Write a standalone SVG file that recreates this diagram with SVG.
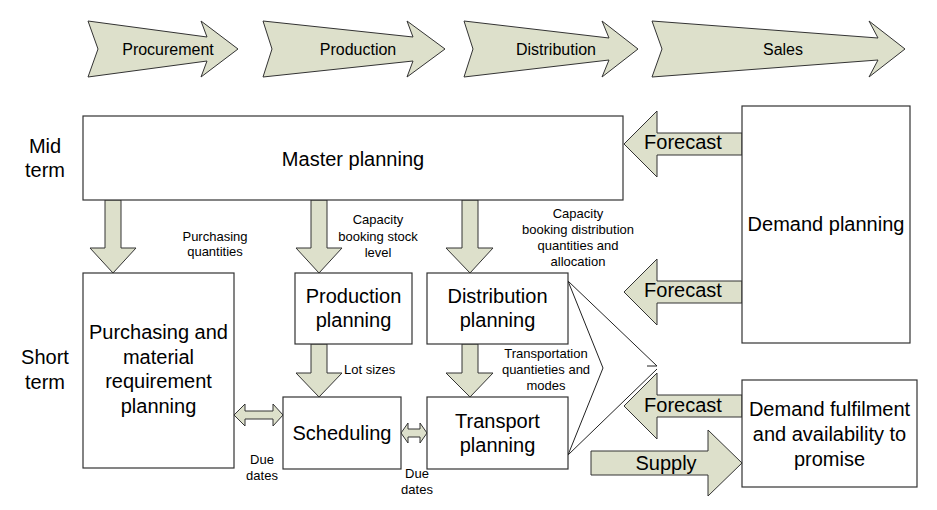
<svg xmlns="http://www.w3.org/2000/svg" width="937" height="510" viewBox="0 0 937 510">
<style>
text{font-family:"Liberation Sans",Arial,sans-serif;fill:#000;text-anchor:middle}
.box{fill:#fff;stroke:#333;stroke-width:1.2}
.arr{fill:#dde0cb;stroke:#333;stroke-width:1}
.ln{fill:none;stroke:#222;stroke-width:1}
.big{font-size:20px}
.mid{font-size:16px}
.sm{font-size:13px}
</style>
<rect width="937" height="510" fill="#fff"/>
<g id="stages">
<g id="procurement"><polygon class="arr" points="88,21 207,37 201,21 238,49 201,77 207,61 88,77 98,49"/><text class="mid" x="168" y="55">Procurement</text></g>
<g id="production"><polygon class="arr" points="263,21 413,37 407,21 445,49 407,77 413,61 263,77 272,49"/><text class="mid" x="358" y="55">Production</text></g>
<g id="distribution"><polygon class="arr" points="464,21 609,38 602,21 638,49 602,77 609,60 464,77 473,49"/><text class="mid" x="556" y="55">Distribution</text></g>
<g id="sales"><polygon class="arr" points="652,21 878,38 869,21 905,49 869,77 878,60 652,77 662,49"/><text class="mid" x="783" y="55">Sales</text></g>
</g>
<g id="labels-terms">
<text class="big" x="45" y="153">Mid</text><text class="big" x="45" y="177">term</text>
<text class="big" x="45" y="364">Short</text><text class="big" x="45" y="389">term</text>
</g>
<g id="connectors">
<polygon class="arr" points="105,200 121,200 121,248 136,248 113,273 90,248 105,248"/>
<polygon class="arr" points="311,200 327,200 327,248 342,248 319,273 296,248 311,248"/>
<polygon class="arr" points="462,200 478,200 478,248 493,248 470,273 446,248 462,248"/>
<polygon class="arr" points="311,344 327,344 327,373 342,373 319,397 296,373 311,373"/>
<polygon class="arr" points="462,344 478,344 478,373 493,373 470,397 446,373 462,373"/>
<polygon class="arr" points="742,133 657,133 657,111 624,144 657,177 657,155 742,155"/>
<polygon class="arr" points="742,281 657,281 657,259 624,292 657,325 657,303 742,303"/>
<polygon class="arr" points="742,395 657,395 657,373 624,406 657,439 657,417 742,417"/>
<polygon class="arr" points="591,451 708,451 708,430 742,463 708,496 708,475 591,475"/>
<polygon class="arr" points="234,415 245,404 245,411 273,411 273,404 283,415 273,426 273,419 245,419 245,426"/>
<polygon class="arr" points="401,433 408,423 408,429 420,429 420,423 427,433 420,443 420,437 408,437 408,443"/>
<polyline class="ln" points="568,281 603,368 568,455"/>
<line class="ln" x1="568" y1="281" x2="657" y2="366"/>
<line class="ln" x1="568" y1="455" x2="657" y2="369"/>
<line class="ln" x1="647" y1="366" x2="657" y2="366"/>
<text class="big" x="683" y="149">Forecast</text>
<text class="big" x="683" y="297">Forecast</text>
<text class="big" x="683" y="412">Forecast</text>
<text class="big" x="666" y="470">Supply</text>
<text class="sm" x="215" y="241">Purchasing</text><text class="sm" x="215" y="256">quantities</text>
<text class="sm" x="378" y="224">Capacity</text><text class="sm" x="378" y="241">booking stock</text><text class="sm" x="378" y="257">level</text>
<text class="sm" x="578" y="218">Capacity</text><text class="sm" x="578" y="234">booking distribution</text><text class="sm" x="578" y="250">quantities and</text><text class="sm" x="578" y="266">allocation</text>
<text class="sm" x="344" y="374" style="text-anchor:start">Lot sizes</text>
<text class="sm" x="546" y="358">Transportation</text><text class="sm" x="546" y="374">quantieties and</text><text class="sm" x="546" y="390">modes</text>
<text class="sm" x="262" y="464">Due</text><text class="sm" x="262" y="480">dates</text>
<text class="sm" x="417" y="478">Due</text><text class="sm" x="417" y="494">dates</text>
</g>
<g id="master-planning"><rect class="box" x="83" y="116" width="540" height="84"/><text class="big" x="353" y="166">Master planning</text></g>
<g id="demand-planning"><rect class="box" x="742" y="106" width="168" height="237"/><text class="big" x="826" y="231">Demand planning</text></g>
<g id="purchasing"><rect class="box" x="83" y="273" width="151" height="195"/><text class="big" x="158.5" y="339">Purchasing and</text><text class="big" x="158.5" y="364">material</text><text class="big" x="158.5" y="388">requirement</text><text class="big" x="158.5" y="413">planning</text></g>
<g id="production-planning"><rect class="box" x="295" y="273" width="117" height="71"/><text class="big" x="353.5" y="303">Production</text><text class="big" x="353.5" y="327">planning</text></g>
<g id="distribution-planning"><rect class="box" x="427" y="273" width="141" height="71"/><text class="big" x="497.5" y="303">Distribution</text><text class="big" x="497.5" y="327">planning</text></g>
<g id="scheduling"><rect class="box" x="283" y="397" width="118" height="72"/><text class="big" x="342" y="440">Scheduling</text></g>
<g id="transport-planning"><rect class="box" x="427" y="397" width="141" height="72"/><text class="big" x="497.5" y="428">Transport</text><text class="big" x="497.5" y="452">planning</text></g>
<g id="demand-fulfilment"><rect class="box" x="742" y="380" width="175" height="107"/><text class="big" x="829.5" y="416">Demand fulfilment</text><text class="big" x="829.5" y="441">and availability to</text><text class="big" x="829.5" y="466">promise</text></g>
</svg>
